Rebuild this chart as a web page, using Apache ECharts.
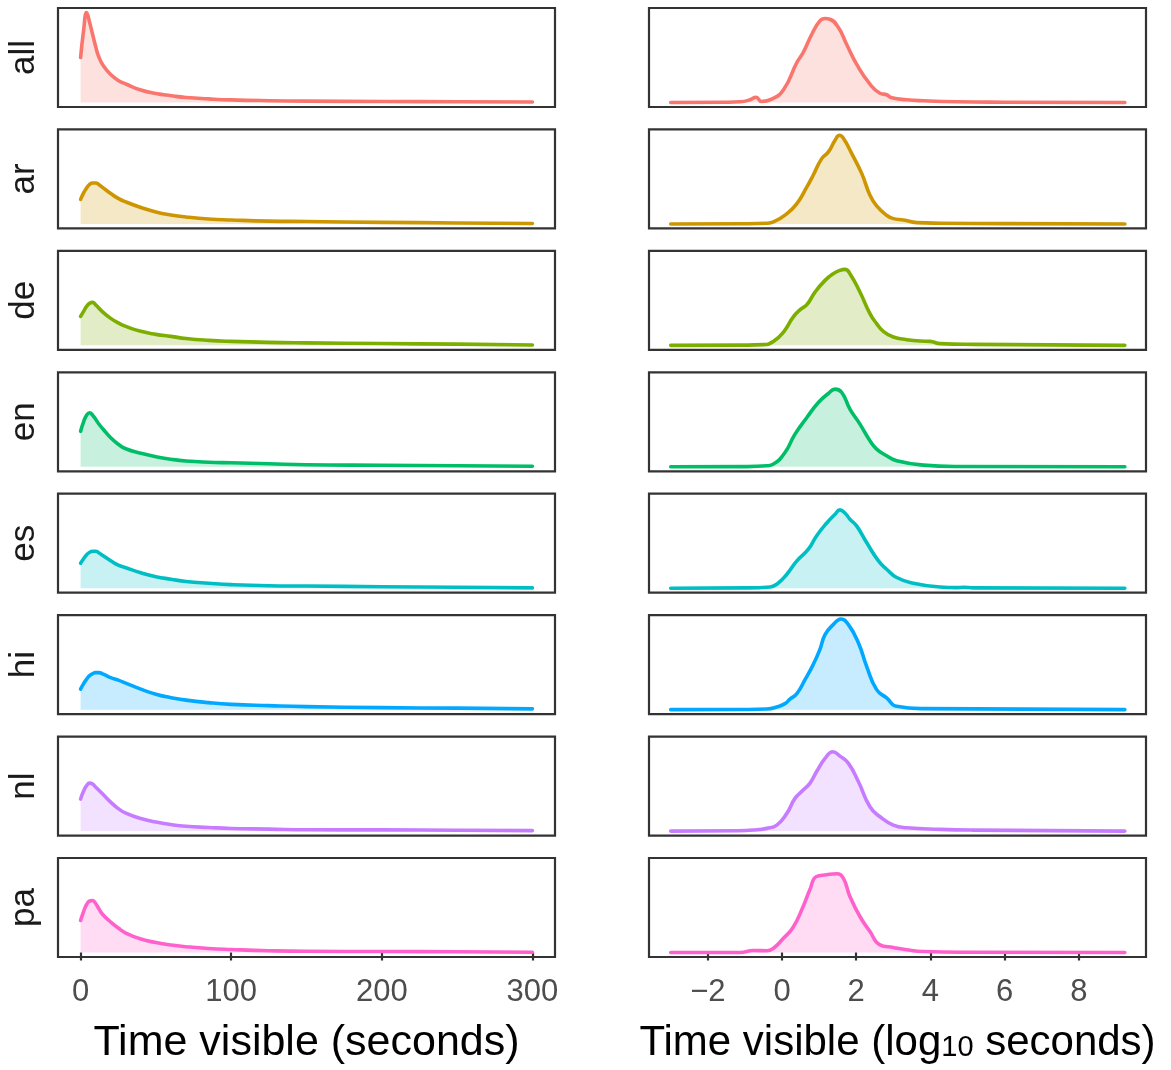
<!DOCTYPE html>
<html>
<head>
<meta charset="utf-8">
<script src="https://cdn.jsdelivr.net/npm/echarts@6/dist/echarts.min.js"></script>
<style>
html,body{margin:0;padding:0;background:#fff;}
#chart{width:1171px;height:1070px;}
</style>
</head>
<body>
<div id="chart"></div>
<script>
// ---------- DATA ----------
const languages = ['all', 'ar', 'de', 'en', 'es', 'hi', 'nl', 'pa'];
const palette = ['#F8766D', '#CD9600', '#7CAE00', '#00BE67', '#00BFC4', '#00A9FF', '#C77CFF', '#FF61CC'];

// Left column: density (relative units) vs time visible in seconds
const secondsGrid = [0, 2, 4, 6, 8, 10, 12, 15, 20, 25, 30, 40, 50, 60, 70, 85, 100, 125, 150, 200, 250, 300];
const lin_all = [45, 72, 90, 80, 68, 56, 46, 37, 28, 22, 18.5, 12.5, 9, 6.8, 5, 3.6, 2.6, 1.8, 1.4, 1, 0.8, 0.5];
const lin_ar  = [24.5, 31, 36, 39.5, 41, 41, 39.5, 36, 30.5, 25.5, 22, 16.5, 12, 9, 7, 5, 4, 2.8, 2.4, 1.6, 1, 0.5];
const lin_de  = [29, 34, 39, 42, 43, 40.5, 37.5, 33, 27, 22.5, 19, 14, 11, 9, 6.8, 5, 4, 3, 2.5, 1.8, 1.2, 0.4];
const lin_en  = [35.5, 45, 51.5, 54, 51.5, 47.5, 43, 37.5, 29, 22.5, 18, 13.5, 10, 7.5, 5.8, 4.6, 4, 3, 2, 1.5, 1, 0.5];
const lin_es  = [25, 29.5, 33.5, 36, 37, 37, 35.5, 32.5, 27.5, 23, 20.5, 15.5, 11.5, 9, 6.8, 5, 3.6, 2.5, 2.2, 1.5, 1, 0.3];
const lin_hi  = [20.5, 26, 30.5, 34, 36, 37, 37, 35.5, 32, 29.5, 26.5, 20.5, 15.5, 12, 9.5, 7, 5.3, 4, 3, 2, 1.5, 0.8];
const lin_nl  = [32, 40, 45.5, 48, 47, 44, 41, 36.5, 29, 22.5, 18, 12.5, 9, 6.5, 4.8, 3.6, 2.6, 2, 1.3, 1.2, 0.8, 0.5];
const lin_pa  = [32, 41, 48, 51.5, 52, 49, 44, 37.5, 30.5, 24.5, 19.5, 13.5, 10, 7.5, 5.8, 4, 3, 1.8, 1.2, 1, 0.8, 0.3];

// Right column: density (relative units) vs log10 seconds
const logX_all = [-3.0, -1.5, -1.13, -0.86, -0.70, -0.55, -0.28, 0.04, 0.40, 0.57, 0.80, 1.02, 1.16, 1.29, 1.52, 1.74, 2.01, 2.37, 2.64, 2.82, 2.96, 3.36, 3.81, 4.71, 6.0, 9.24];
const logY_all = [0, 0.2, 0.7, 2.7, 5.3, 1.0, 3.3, 12.7, 40, 50, 68, 81.7, 84, 83.3, 75, 58.3, 38.3, 18.3, 9.3, 7.7, 4.7, 2.7, 1.7, 0.7, 0.3, 0];
const logX_ar  = [-3.0, -1.0, -0.41, -0.23, 0.13, 0.40, 0.67, 0.84, 1.07, 1.25, 1.43, 1.55, 1.65, 1.88, 2.15, 2.37, 2.55, 2.82, 3.00, 3.27, 3.63, 4.26, 6.0, 9.24];
const logY_ar  = [0, 0.2, 0.7, 2, 10.3, 20.3, 37, 48.7, 65.3, 72, 83.7, 88.7, 86, 70.3, 50.3, 28.7, 18, 8.7, 5.3, 4, 1.3, 0.7, 0.3, 0];
const logX_de  = [-3.0, -1.0, -0.50, -0.23, 0.04, 0.30, 0.49, 0.67, 0.89, 1.16, 1.38, 1.56, 1.70, 1.83, 2.10, 2.37, 2.55, 2.73, 3.00, 3.36, 3.72, 3.99, 4.26, 5.16, 9.24];
const logY_de  = [0, 0.2, 0.7, 4, 13.3, 28.3, 35.7, 40.7, 53.3, 65, 71.7, 75, 76, 71.7, 53.3, 31.7, 21.7, 14, 8.3, 5.7, 4.3, 4, 1.7, 1, 0];
const logX_en  = [-3.0, -1.0, -0.41, -0.23, 0.08, 0.35, 0.67, 0.98, 1.25, 1.43, 1.61, 1.83, 2.10, 2.37, 2.55, 2.82, 3.09, 3.81, 4.71, 9.24];
const logY_en  = [0, 0.2, 1, 2.7, 14.3, 32.7, 49.3, 64.3, 73.3, 77.7, 74.3, 57.7, 42.7, 26, 17.7, 11, 6, 1.7, 0.3, 0];
const logX_es  = [-3.0, -1.0, -0.32, -0.14, 0.13, 0.40, 0.71, 0.93, 1.20, 1.43, 1.56, 1.70, 1.83, 2.01, 2.28, 2.60, 2.82, 3.09, 3.54, 4.26, 4.70, 4.89, 5.16, 9.24];
const logY_es  = [0, 0.3, 1.3, 4, 14, 27.3, 39, 52.3, 65, 74, 78.3, 75, 69, 62.3, 45.7, 27.3, 19, 10.7, 5, 1.3, 0.6, 1, 0.3, 0];
const logX_hi  = [-3.0, -1.0, -0.41, -0.14, 0.08, 0.22, 0.40, 0.62, 0.84, 1.02, 1.16, 1.38, 1.59, 1.79, 2.06, 2.28, 2.55, 2.82, 3.09, 3.81, 9.24];
const logY_hi  = [0, 0.2, 0.7, 2.7, 6, 10.7, 16, 30, 45, 60, 75, 85, 90.7, 85, 66.7, 43.3, 20, 11.7, 3.3, 1, 0];
const logX_nl  = [-3.0, -1.2, -0.77, -0.41, -0.14, 0.13, 0.35, 0.57, 0.75, 0.93, 1.16, 1.37, 1.56, 1.79, 2.06, 2.37, 2.64, 3.00, 3.36, 4.26, 5.16, 9.24];
const logY_nl  = [0, 0.3, 1, 2.7, 6, 17.7, 32.7, 41, 47.7, 59.3, 72.7, 79.3, 75, 67.7, 49.3, 24.3, 14.3, 6, 3.3, 1.7, 1, 0];
const logX_pa  = [-3.0, -1.13, -0.77, -0.41, -0.23, 0.04, 0.30, 0.57, 0.75, 0.93, 1.20, 1.47, 1.65, 1.83, 2.10, 2.37, 2.64, 3.00, 3.36, 3.81, 5.0, 9.24];
const logY_pa  = [0, 0, 2, 1.7, 4.3, 14.3, 25.3, 46, 62.7, 76, 77.7, 78.7, 74.3, 56, 36, 21, 7.7, 5, 2.7, 1, 0.3, 0];

const linTicks = [0, 100, 200, 300];
const logTicks = [-2, 0, 2, 4, 6, 8];
const linTitle = 'Time visible (seconds)';

// ---------- BUILD ----------
const linSeries = [lin_all, lin_ar, lin_de, lin_en, lin_es, lin_hi, lin_nl, lin_pa];
const logXs = [logX_all, logX_ar, logX_de, logX_en, logX_es, logX_hi, logX_nl, logX_pa];
const logYs = [logY_all, logY_ar, logY_de, logY_en, logY_es, logY_hi, logY_nl, logY_pa];

const FONT = '"Liberation Sans", Arial, Helvetica, sans-serif';
const rowTop0 = 8, rowPitch = 121.43, panelH = 99;
const colLeft = [58, 649], panelW = 497;
const xRange = [[-15, 315], [-3.585, 9.81]];
const yMin = -4.5, yMax = 94.5;

const grids = [], xAxes = [], yAxes = [], series = [];
languages.forEach((lang, r) => {
  for (let c = 0; c < 2; c++) {
    const idx = grids.length;
    const isBottom = r === languages.length - 1;
    grids.push({
      left: colLeft[c], top: rowTop0 + r * rowPitch, width: panelW, height: panelH,
      show: true, borderColor: '#333', borderWidth: 2.2, backgroundColor: 'transparent'
    });
    const ticks = c === 0 ? linTicks : logTicks;
    const xa = {
      type: 'value', gridIndex: idx, min: xRange[c][0], max: xRange[c][1],
      axisLine: { show: false },
      splitLine: { show: false },
      axisTick: { show: isBottom, customValues: ticks, length: 8, lineStyle: { color: '#333', width: 2.2 } },
      axisLabel: {
        show: isBottom, customValues: ticks, margin: 20,
        color: '#4d4d4d', fontSize: 31, fontFamily: FONT,
        formatter: v => (v < 0 ? '\u2212' + Math.abs(v) : String(v))
      }
    };
    if (isBottom) {
      xa.nameLocation = 'middle';
      xa.nameGap = 65;
      if (c === 0) {
        xa.name = linTitle;
        xa.nameTextStyle = { fontSize: 43, color: '#000', fontFamily: FONT };
      } else {
        xa.name = '{t|Time visible (log}{s|10}{t| seconds)}';
        xa.nameTextStyle = {
          fontFamily: FONT, color: '#000',
          rich: {
            t: { fontSize: 42, color: '#000', fontFamily: FONT, padding: [0, 0, 10, 0] },
            s: { fontSize: 29, color: '#000', fontFamily: FONT, padding: [0, 0, 0, 0] }
          }
        };
      }
    }
    xAxes.push(xa);
    const ya = {
      type: 'value', gridIndex: idx, min: yMin, max: yMax,
      axisLine: { show: false }, axisTick: { show: false }, axisLabel: { show: false }, splitLine: { show: false }
    };
    if (c === 0) {
      ya.name = lang;
      ya.nameLocation = 'middle';
      ya.nameRotate = 90;
      ya.nameGap = 16;
      ya.nameTextStyle = { fontSize: 35, color: '#1a1a1a', fontFamily: FONT };
    }
    yAxes.push(ya);
    const data = c === 0
      ? secondsGrid.map((x, i) => [x, linSeries[r][i]])
      : logXs[r].map((x, i) => [x, logYs[r][i]]);
    series.push({
      type: 'line', name: lang, xAxisIndex: idx, yAxisIndex: idx, data: data,
      smooth: 0.5, showSymbol: false, symbol: 'none', clip: true,
      lineStyle: { color: palette[r], width: 3.6, cap: 'round', join: 'round' },
      itemStyle: { color: palette[r] },
      areaStyle: { color: palette[r], opacity: 0.22 },
      silent: true
    });
  }
});

const chart = echarts.init(document.getElementById('chart'), null, { renderer: 'canvas' });
chart.setOption({
  animation: false,
  backgroundColor: '#fff',
  grid: grids, xAxis: xAxes, yAxis: yAxes, series: series
});
</script>
</body>
</html>
